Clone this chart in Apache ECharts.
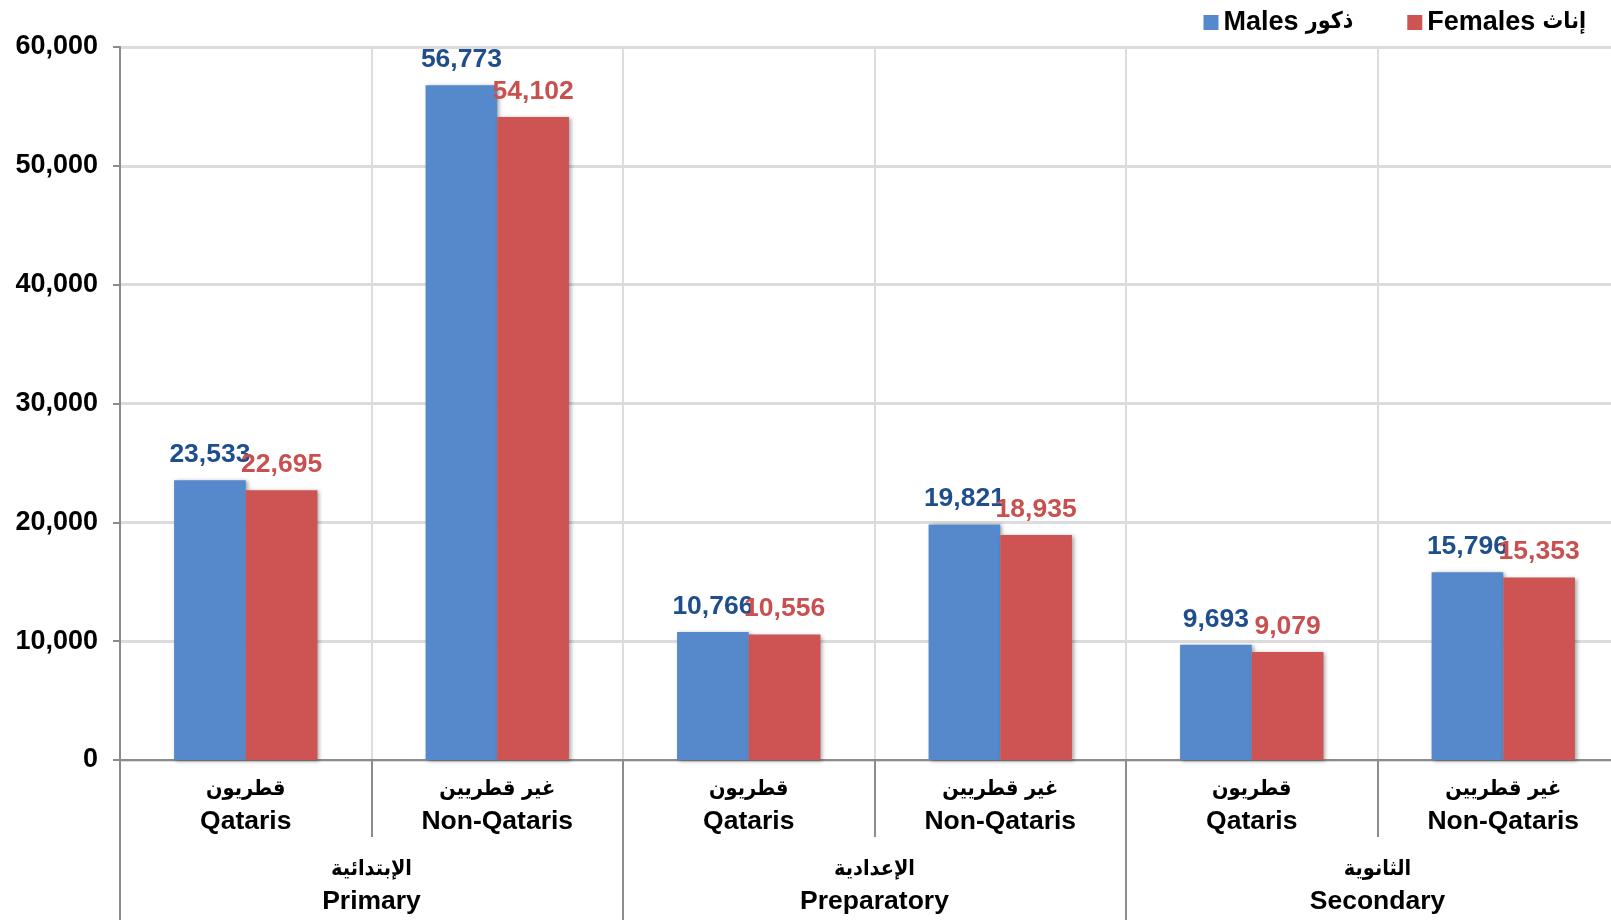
<!DOCTYPE html>
<html>
<head>
<meta charset="utf-8">
<script src="https://cdn.jsdelivr.net/npm/echarts@6/dist/echarts.min.js"></script>
<style>
html,body{margin:0;padding:0;background:#fff;overflow:hidden;}
#main{width:1629px;height:920px;}
</style>
</head>
<body>
<div id="main"></div>
<script>
const categories = ['قطريون\nQataris','غير قطريين\nNon-Qataris','قطريون\nQataris','غير قطريين\nNon-Qataris','قطريون\nQataris','غير قطريين\nNon-Qataris'];
const groups = ['الإبتدائية\nPrimary','الإعدادية\nPreparatory','الثانوية\nSecondary'];
const males = [23533, 56773, 10766, 19821, 9693, 15796];
const females = [22695, 54102, 10556, 18935, 9079, 15353];
const seriesNames = ['Males ذكور', 'Females إناث'];
const yMin = 0, yMax = 60000, yStep = 10000;

const FONT = '"Liberation Sans", Arial, "DejaVu Sans", sans-serif';
const AFONT = '"DejaVu Sans Condensed", "DejaVu Sans", sans-serif';
const fmt = v => Number(v).toLocaleString('en-US');

function twoLine(v) {
  const parts = v.split('\n');
  return '{ar|' + parts[0] + '}\n{en|' + parts[1] + '}';
}
const labelRich = {
  ar: { fontFamily: AFONT, fontSize: 21.5, fontWeight: 'bold', color: '#000', lineHeight: 32, padding: [0, 0, 2, 0] },
  en: { fontFamily: FONT, fontSize: 26.5, fontWeight: 'bold', color: '#000', lineHeight: 32 }
};

const chart = echarts.init(document.getElementById('main'));
chart.setOption({
  animation: false,
  backgroundColor: '#ffffff',
  textStyle: { fontFamily: FONT },
  legend: {
    data: seriesNames,
    right: 38,
    top: 4,
    itemWidth: 15,
    itemHeight: 15,
    itemGap: 54,
    icon: 'rect',
    formatter: name => {
      const i = name.indexOf(' ');
      return '{en|' + name.slice(0, i) + '} {ar|' + name.slice(i + 1) + '}';
    },
    textStyle: {
      fontFamily: FONT, fontSize: 26, fontWeight: 'bold', color: '#000',
      rich: {
        en: { fontFamily: FONT, fontSize: 27, fontWeight: 'bold', color: '#000' },
        ar: { fontFamily: AFONT, fontSize: 23, fontWeight: 'bold', color: '#000' }
      }
    }
  },
  grid: { left: 120, top: 47, right: 0, height: 713, containLabel: false },
  xAxis: [
    {
      type: 'category',
      data: categories,
      boundaryGap: true,
      axisLine: { show: true, lineStyle: { color: '#8c8c8c', width: 2 } },
      axisTick: { show: true, interval: 0, length: 77, lineStyle: { color: '#8c8c8c', width: 2 } },
      splitLine: { show: true, interval: 0, lineStyle: { color: '#dcdcdc', width: 2 } },
      axisLabel: { interval: 0, margin: 14, formatter: twoLine, rich: labelRich }
    },
    {
      type: 'category',
      data: groups,
      position: 'bottom',
      boundaryGap: true,
      axisLine: { show: false },
      axisTick: { show: true, interval: 0, length: 165, lineStyle: { color: '#8c8c8c', width: 2 } },
      splitLine: { show: false },
      axisLabel: { interval: 0, margin: 94, formatter: twoLine, rich: labelRich }
    }
  ],
  yAxis: {
    type: 'value',
    min: yMin, max: yMax, interval: yStep,
    axisLine: { show: true, lineStyle: { color: '#8c8c8c', width: 2 } },
    axisTick: { show: true, length: 7, lineStyle: { color: '#8c8c8c', width: 2 } },
    splitLine: { show: true, lineStyle: { color: '#dcdcdc', width: 3 } },
    axisLabel: { margin: 22, fontFamily: FONT, fontSize: 27, fontWeight: 'bold', color: '#000', formatter: fmt }
  },
  series: [
    {
      name: seriesNames[0], type: 'bar', data: males, xAxisIndex: 0,
      barGap: '0%', barCategoryGap: '43%',
      itemStyle: { color: '#5689CB', shadowBlur: 4, shadowOffsetX: 2, shadowOffsetY: 1, shadowColor: 'rgba(0,0,0,0.35)' },
      label: { show: true, position: 'top', distance: 12, formatter: p => fmt(p.value), fontFamily: FONT, fontSize: 26.5, fontWeight: 'bold', color: '#1F4E8C' }
    },
    {
      name: seriesNames[1], type: 'bar', data: females, xAxisIndex: 0,
      barGap: '0%', barCategoryGap: '43%',
      itemStyle: { color: '#CD5452', shadowBlur: 4, shadowOffsetX: 2, shadowOffsetY: 1, shadowColor: 'rgba(0,0,0,0.35)' },
      label: { show: true, position: 'top', distance: 12, formatter: p => fmt(p.value), fontFamily: FONT, fontSize: 26.5, fontWeight: 'bold', color: '#C9504E' }
    }
  ]
});
</script>
</body>
</html>
